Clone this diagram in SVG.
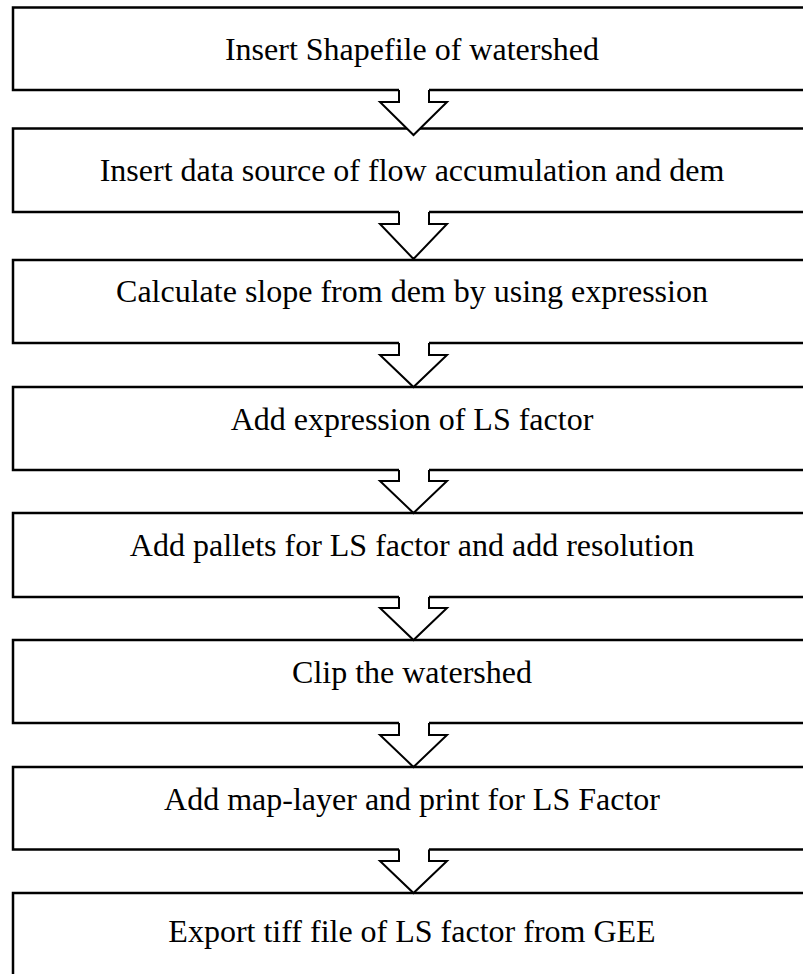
<svg xmlns="http://www.w3.org/2000/svg" width="803" height="974" viewBox="0 0 803 974">
<style>
.box{fill:#fff;stroke:#000;stroke-width:2.5}
.lbl{font-family:"Liberation Serif","Times New Roman",serif;font-size:32px;fill:#000;text-anchor:middle}
.arr{fill:#fff;stroke:#000;stroke-width:2;stroke-linejoin:miter}
.cov{fill:#fff;stroke:none}
</style>
<rect width="803" height="974" fill="#fff"/>
<g id="n1"><rect class="box" x="13" y="7.5" width="802" height="82.5"/><text class="lbl" x="412" y="60">Insert Shapefile of watershed</text></g>
<g id="n2"><rect class="box" x="13" y="128.5" width="802" height="83.5"/><text class="lbl" x="412" y="181">Insert data source of flow accumulation and dem</text></g>
<g id="n3"><rect class="box" x="13" y="260" width="802" height="83"/><text class="lbl" x="412" y="302">Calculate slope from dem by using expression</text></g>
<g id="n4"><rect class="box" x="13" y="387" width="802" height="83"/><text class="lbl" x="412" y="430">Add expression of LS factor</text></g>
<g id="n5"><rect class="box" x="13" y="513" width="802" height="84"/><text class="lbl" x="412" y="556">Add pallets for LS factor and add resolution</text></g>
<g id="n6"><rect class="box" x="13" y="640" width="802" height="83"/><text class="lbl" x="412" y="683">Clip the watershed</text></g>
<g id="n7"><rect class="box" x="13" y="767" width="802" height="82.5"/><text class="lbl" x="412" y="810">Add map-layer and print for LS Factor</text></g>
<g id="n8"><rect class="box" x="13" y="893" width="802" height="100"/><text class="lbl" x="412" y="942">Export tiff file of LS factor from GEE</text></g>
<g id="connectors">
<g id="a1"><rect class="cov" x="399" y="87" width="30" height="6"/><path class="arr" d="M399,90 V102 H380 L413.5,135 L447,102 H429 V90"/></g>
<g id="a2"><rect class="cov" x="399" y="209" width="30" height="6"/><path class="arr" d="M399,212 V224 H380 L413.5,259 L447,224 H429 V212"/></g>
<g id="a3"><rect class="cov" x="399" y="340" width="30" height="6"/><path class="arr" d="M399,343 V355 H380 L413.5,387 L447,355 H429 V343"/></g>
<g id="a4"><rect class="cov" x="399" y="467" width="30" height="6"/><path class="arr" d="M399,470 V481 H380 L413.5,513 L447,481 H429 V470"/></g>
<g id="a5"><rect class="cov" x="399" y="594" width="30" height="6"/><path class="arr" d="M399,597 V608 H380 L413.5,640 L447,608 H429 V597"/></g>
<g id="a6"><rect class="cov" x="399" y="720" width="30" height="6"/><path class="arr" d="M399,723 V735 H380 L413.5,767 L447,735 H429 V723"/></g>
<g id="a7"><rect class="cov" x="399" y="846" width="30" height="6"/><path class="arr" d="M399,849.5 V861 H380 L413.5,893 L447,861 H429 V849.5"/></g>
</g>
</svg>
